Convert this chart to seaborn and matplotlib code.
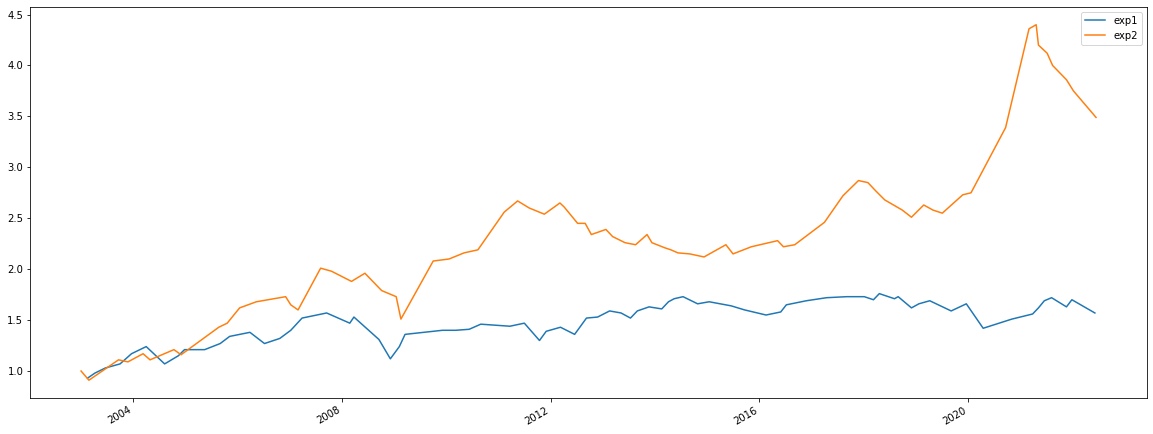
import pandas as pd
import matplotlib
matplotlib.use('Agg')
import matplotlib.pyplot as plt
import matplotlib.dates as mdates
import seaborn as sns

# exp1 series
exp1_dates = ['2003-02-15', '2003-04-08', '2003-06-20', '2003-10-01', '2003-12-20',
              '2004-04-01', '2004-08-08', '2004-11-12', '2004-12-25', '2005-05-15',
              '2005-09-01', '2005-11-06', '2006-03-28', '2006-07-08', '2006-10-23',
              '2007-01-08', '2007-03-28', '2007-09-16', '2008-02-25', '2008-03-25',
              '2008-09-16', '2008-12-05', '2009-02-06', '2009-03-18', '2009-12-05',
              '2010-03-08', '2010-06-10', '2010-08-30', '2011-03-22', '2011-07-01',
              '2011-10-15', '2011-12-01', '2012-03-10', '2012-06-17', '2012-09-08',
              '2012-11-25', '2013-02-17', '2013-05-08', '2013-07-13', '2013-08-30',
              '2013-11-20', '2014-02-17', '2014-04-05', '2014-05-15', '2014-07-16',
              '2014-10-26', '2015-01-15', '2015-06-18', '2015-09-20', '2016-02-17',
              '2016-05-30', '2016-07-08', '2016-11-25', '2017-04-16', '2017-09-05',
              '2018-01-05', '2018-03-10', '2018-04-20', '2018-08-04', '2018-08-30',
              '2018-12-01', '2019-01-22', '2019-04-08', '2019-09-05', '2019-12-20',
              '2020-04-16', '2020-11-03', '2021-03-28', '2021-05-08', '2021-06-18',
              '2021-08-08', '2021-11-20', '2021-12-28', '2022-06-07']
exp1_values = [0.93, 0.98, 1.03, 1.07, 1.17,
               1.24, 1.07, 1.15, 1.21, 1.21,
               1.27, 1.34, 1.38, 1.27, 1.32,
               1.40, 1.52, 1.57, 1.47, 1.53,
               1.31, 1.12, 1.24, 1.36, 1.40,
               1.40, 1.41, 1.46, 1.44, 1.47,
               1.30, 1.39, 1.43, 1.36, 1.52,
               1.53, 1.59, 1.57, 1.52, 1.59,
               1.63, 1.61, 1.68, 1.71, 1.73,
               1.66, 1.68, 1.64, 1.60, 1.55,
               1.58, 1.65, 1.69, 1.72, 1.73,
               1.73, 1.70, 1.76, 1.71, 1.73,
               1.62, 1.66, 1.69, 1.59, 1.66,
               1.42, 1.51, 1.56, 1.62, 1.69,
               1.72, 1.63, 1.70, 1.57]

# exp2 series
exp2_dates = ['2003-01-01', '2003-02-25', '2003-09-20', '2003-11-25', '2004-03-10',
              '2004-04-28', '2004-10-12', '2004-12-01', '2005-08-22', '2005-10-20',
              '2006-01-15', '2006-05-12', '2006-12-03', '2007-01-08', '2007-02-28',
              '2007-08-05', '2007-10-20', '2008-03-08', '2008-06-10', '2008-10-05',
              '2009-01-15', '2009-02-17', '2009-10-01', '2010-01-20', '2010-05-05',
              '2010-08-10', '2011-02-10', '2011-05-15', '2011-08-05', '2011-11-18',
              '2012-03-06', '2012-04-05', '2012-07-08', '2012-08-30', '2012-10-12',
              '2013-01-22', '2013-03-10', '2013-06-05', '2013-08-18', '2013-11-06',
              '2013-12-10', '2014-03-10', '2014-04-22', '2014-06-10', '2014-09-01',
              '2014-12-10', '2015-05-12', '2015-07-01', '2015-11-06', '2016-05-08',
              '2016-06-18', '2016-09-05', '2017-04-01', '2017-08-08', '2017-11-25',
              '2018-01-30', '2018-03-25', '2018-05-28', '2018-09-28', '2018-12-01',
              '2019-02-25', '2019-05-01', '2019-07-05', '2019-11-25', '2020-01-22',
              '2020-09-20', '2021-03-03', '2021-04-22', '2021-05-08', '2021-07-08',
              '2021-08-15', '2021-11-20', '2022-01-08', '2022-06-15']
exp2_values = [1.00, 0.91, 1.11, 1.09, 1.17,
               1.11, 1.21, 1.16, 1.43, 1.47,
               1.62, 1.68, 1.73, 1.65, 1.60,
               2.01, 1.98, 1.88, 1.96, 1.79,
               1.73, 1.51, 2.08, 2.10, 2.16,
               2.19, 2.56, 2.67, 2.60, 2.54,
               2.65, 2.61, 2.45, 2.45, 2.34,
               2.39, 2.32, 2.26, 2.24, 2.34,
               2.26, 2.21, 2.19, 2.16, 2.15,
               2.12, 2.24, 2.15, 2.22, 2.28,
               2.22, 2.24, 2.46, 2.72, 2.87,
               2.85, 2.77, 2.68, 2.58, 2.51,
               2.63, 2.58, 2.55, 2.73, 2.75,
               3.39, 4.36, 4.40, 4.20, 4.12,
               4.00, 3.86, 3.75, 3.49]

df1 = pd.DataFrame({'date': pd.to_datetime(exp1_dates), 'value': exp1_values})
df2 = pd.DataFrame({'date': pd.to_datetime(exp2_dates), 'value': exp2_values})

fig = plt.figure(figsize=(1153 / 72, 434 / 72), dpi=72)
ax = fig.add_axes([0.0263, 0.083, 0.9683, 0.901])

sns.lineplot(data=df1, x='date', y='value', ax=ax, color='#1f77b4', label='exp1')
sns.lineplot(data=df2, x='date', y='value', ax=ax, color='#ff7f0e', label='exp2')

ax.set_xlabel('')
ax.set_ylabel('')
ax.xaxis.set_major_locator(mdates.YearLocator(4))
ax.xaxis.set_major_formatter(mdates.DateFormatter('%Y'))
for lbl in ax.get_xticklabels():
    lbl.set_rotation(30)
    lbl.set_ha('right')
ax.legend(loc='upper right')

fig.savefig('out.png', dpi=72)
